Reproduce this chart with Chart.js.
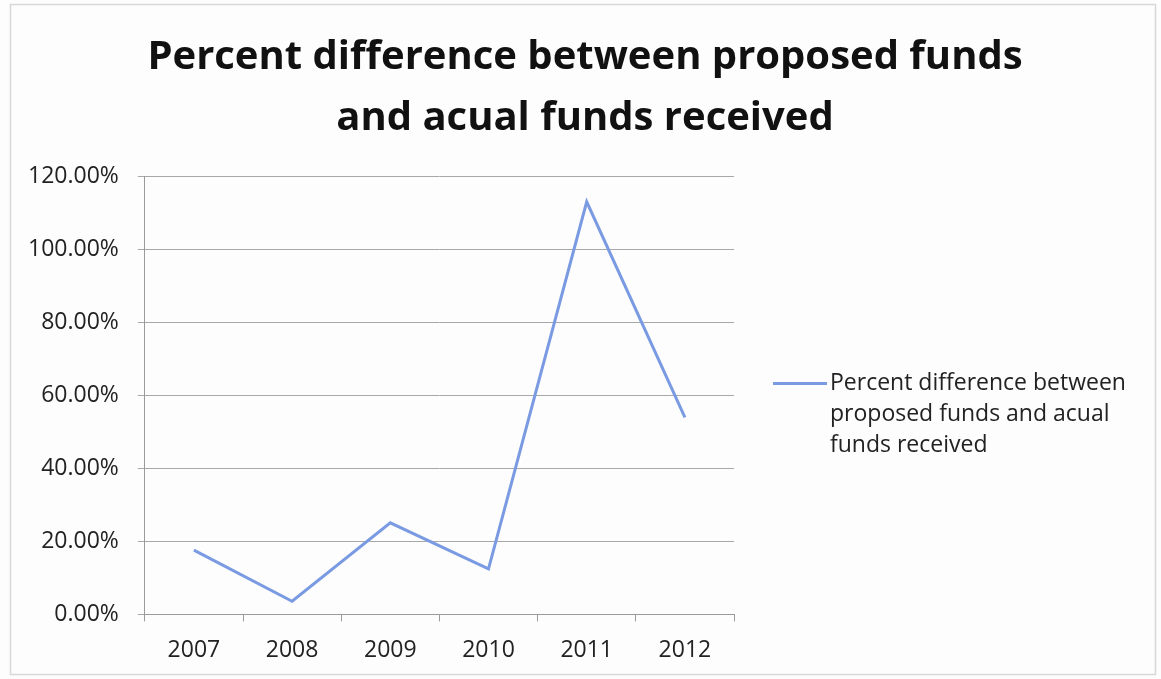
<!DOCTYPE html>
<html>
<head>
<meta charset="utf-8">
<script src="https://cdn.jsdelivr.net/npm/chart.js@4"></script>
<style>
  html, body { margin: 0; padding: 0; background: #fff; }
  #wrap { width: 1161px; height: 679px; position: relative; }
</style>
</head>
<body>
<div id="wrap"><canvas id="fundsChart"></canvas></div>
<script>
const years = ["2007", "2008", "2009", "2010", "2011", "2012"];
const percentDiff = [0.176, 0.036, 0.251, 0.125, 1.131, 0.540];
const seriesLabel = "Percent difference between proposed funds and acual funds received";
const titleLines = ["Percent difference between proposed funds", "and acual funds received"];

const FONT = "'Open Sans', sans-serif";
const lineColor = "rgb(122, 154, 226)";

// outer frame of the chart
const framePlugin = {
  id: "frame",
  beforeDraw(chart) {
    const { ctx } = chart;
    ctx.save();
    ctx.fillStyle = "#fdfdfe";
    ctx.fillRect(0, 0, chart.width, chart.height);
    ctx.strokeStyle = "#d8d8d8";
    ctx.lineWidth = 1.5;
    ctx.strokeRect(10.5, 4.5, chart.width - 16, chart.height - 9);
    ctx.restore();
  }
};

// legend with word-wrapped series name, drawn in the reserved right column
const wrapLegendPlugin = {
  id: "wrapLegend",
  afterDraw(chart, args, opts) {
    const { ctx, chartArea } = chart;
    const ds = chart.data.datasets[0];
    ctx.save();
    ctx.font = opts.font;
    ctx.fillStyle = "#222";
    ctx.textBaseline = "middle";
    const words = ds.label.split(" ");
    const lines = [];
    let cur = "";
    for (const w of words) {
      const test = cur ? cur + " " + w : w;
      if (ctx.measureText(test).width > opts.maxWidth && cur) {
        lines.push(cur);
        cur = w;
      } else {
        cur = test;
      }
    }
    if (cur) lines.push(cur);
    const x0 = chartArea.right + opts.gap;
    const y0 = chartArea.top + opts.offsetY;
    ctx.strokeStyle = ds.borderColor;
    ctx.lineWidth = ds.borderWidth;
    ctx.beginPath();
    ctx.moveTo(x0, y0);
    ctx.lineTo(x0 + opts.sample, y0);
    ctx.stroke();
    lines.forEach((l, i) => {
      ctx.fillText(l, x0 + opts.sample + 3, y0 + i * opts.lineHeight);
    });
    ctx.restore();
  }
};

const ctx = document.getElementById("fundsChart").getContext("2d");
new Chart(ctx, {
  type: "line",
  data: {
    labels: years,
    datasets: [{
      label: seriesLabel,
      data: percentDiff,
      borderColor: lineColor,
      borderWidth: 3,
      pointRadius: 0,
      tension: 0,
      fill: false
    }]
  },
  options: {
    responsive: true,
    maintainAspectRatio: false,
    animation: false,
    layout: { padding: { left: 9, right: 0, top: 0, bottom: 0 } },
    plugins: {
      legend: { display: false },
      tooltip: { enabled: false },
      title: {
        display: true,
        text: titleLines,
        color: "#111",
        font: { family: FONT, size: 40, weight: "bold", lineHeight: 1.52 },
        padding: { top: 27, bottom: 28 }
      },
      wrapLegend: {
        font: "23px " + FONT,
        maxWidth: 320,
        gap: 39,
        sample: 54,
        offsetY: 207,
        lineHeight: 31
      }
    },
    scales: {
      x: {
        offset: true,
        grid: {
          offset: true,
          drawOnChartArea: false,
          drawTicks: true,
          tickLength: 7,
          color: "#9a9a9a"
        },
        border: { color: "#9a9a9a", width: 1 },
        ticks: {
          color: "#222",
          font: { family: FONT, size: 23 },
          padding: 15
        }
      },
      y: {
        min: 0,
        max: 1.2,
        grid: {
          color: "#a8a8a8",
          tickLength: 7,
          lineWidth: 1
        },
        border: { color: "#9a9a9a", width: 1 },
        ticks: {
          stepSize: 0.2,
          color: "#222",
          font: { family: FONT, size: 23 },
          padding: 19,
          callback: v => (v * 100).toFixed(2) + "%"
        }
      },
      // empty right-hand column that holds the legend
      legendSpace: {
        type: "linear",
        position: "right",
        grid: { display: false },
        border: { display: false },
        ticks: { display: false },
        afterFit(scale) { scale.width = 427; }
      }
    }
  },
  plugins: [framePlugin, wrapLegendPlugin]
});
</script>
</body>
</html>
